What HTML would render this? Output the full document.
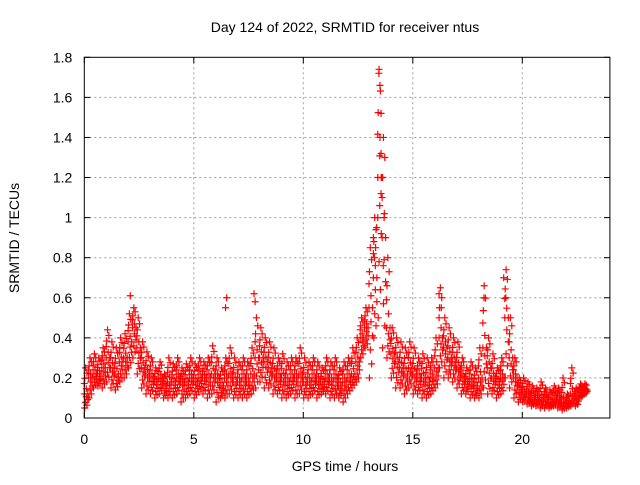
<!DOCTYPE html>
<html><head><meta charset="utf-8"><style>
body{margin:0;background:#fff}
svg text{font-family:"Liberation Sans",sans-serif;font-size:14px;fill:#000}
</style></head><body>
<svg id="chart" width="640" height="480" xmlns="http://www.w3.org/2000/svg">
<rect width="640" height="480" fill="#fff"/>
<text x="345" y="32" text-anchor="middle">Day 124 of 2022, SRMTID for receiver ntus</text>
<text transform="translate(19,238) rotate(-90)" text-anchor="middle">SRMTID / TECUs</text>
<text x="345" y="471" text-anchor="middle">GPS time / hours</text>
<g id="grid"></g><g id="ticks"></g><g id="marks"></g>
<rect x="84.3" y="57.3" width="525.6" height="360.7" fill="none" stroke="#000" stroke-width="1"/>
</svg>
<script>
const times=[0.0,0.2,0.4,0.6,0.8,1.0,1.2,1.4,1.6,1.8,2.0,2.2,2.4,2.6,2.8,3.0,3.2,3.4,3.6,3.8,4.0,4.2,4.4,4.6,4.8,5.0,5.2,5.4,5.6,5.8,6.0,6.2,6.4,6.6,6.8,7.0,7.2,7.4,7.6,7.8,8.0,8.2,8.4,8.6,8.8,9.0,9.2,9.4,9.6,9.8,10.0,10.2,10.4,10.6,10.8,11.0,11.2,11.4,11.6,11.8,12.0,12.2,12.4,12.6,12.8,13.0,13.2,13.4,13.6,13.8,14.0,14.2,14.4,14.6,14.8,15.0,15.2,15.4,15.6,15.8,16.0,16.2,16.4,16.6,16.8,17.0,17.2,17.4,17.6,17.8,18.0,18.2,18.4,18.6,18.8,19.0,19.2,19.4,19.6,19.8,20.0,20.2,20.4,20.6,20.8,21.0,21.2,21.4,21.6,21.8,22.0,22.2,22.4,22.6,22.8];
const hiVals=[.25,.3,.32,.3,.35,.44,.38,.35,.4,.42,.52,.55,.5,.38,.33,.3,.25,.28,.22,.3,.27,.3,.25,.27,.3,.27,.3,.28,.3,.36,.3,.25,.3,.35,.3,.28,.3,.28,.35,.5,.45,.4,.38,.35,.3,.32,.28,.3,.3,.35,.3,.28,.3,.28,.25,.3,.28,.3,.25,.28,.3,.35,.4,.5,.55,.85,1.0,1.74,1.4,.8,.45,.4,.38,.35,.38,.35,.3,.32,.3,.3,.4,.65,.5,.45,.4,.38,.3,.25,.28,.25,.35,.66,.4,.32,.25,.3,.74,.5,.3,.2,.2,.18,.16,.15,.18,.15,.14,.16,.15,.2,.12,.25,.15,.17,.17];
const midVals=[.12,.2,.22,.22,.25,.3,.25,.22,.28,.3,.38,.45,.35,.25,.22,.2,.18,.2,.16,.18,.18,.2,.18,.18,.2,.18,.2,.2,.2,.22,.2,.16,.2,.22,.18,.18,.2,.18,.22,.3,.3,.28,.25,.22,.2,.2,.18,.2,.2,.22,.18,.18,.2,.18,.18,.2,.18,.2,.16,.18,.2,.22,.28,.4,.45,.55,.7,1.2,.9,.45,.32,.28,.25,.22,.25,.22,.2,.2,.18,.2,.25,.4,.35,.3,.28,.25,.2,.18,.18,.16,.2,.35,.25,.2,.18,.2,.5,.3,.2,.14,.13,.12,.1,.1,.1,.1,.08,.1,.1,.08,.08,.12,.1,.13,.14];
const loVals=[.05,.1,.15,.16,.15,.18,.15,.14,.18,.2,.25,.3,.22,.15,.12,.12,.1,.12,.1,.1,.1,.12,.08,.1,.12,.1,.13,.12,.1,.12,.08,.1,.1,.12,.1,.1,.1,.1,.12,.15,.18,.15,.15,.12,.12,.1,.1,.12,.1,.12,.1,.1,.12,.1,.12,.12,.1,.1,.1,.08,.12,.15,.18,.3,.35,.2,.4,.5,.35,.3,.2,.15,.15,.12,.15,.12,.12,.1,.1,.12,.15,.25,.2,.2,.18,.15,.12,.12,.1,.1,.1,.15,.12,.12,.1,.12,.2,.15,.1,.08,.08,.07,.06,.06,.05,.05,.05,.06,.05,.04,.05,.06,.06,.1,.12];
const spikeTimes=[13.45,13.5,13.55,13.5,13.55,13.6,13.55,13.35,13.3,13.65,13.25,13.4,6.5,6.45,7.75,7.8,2.1,18.25,19.15,19.25,16.2,16.3,13.2,13.7];
const spikeVals=[1.72,1.66,1.52,1.4,1.32,1.2,1.12,0.95,0.85,0.76,0.8,1.0,0.6,0.55,0.62,0.58,0.61,0.6,0.7,0.6,0.62,0.55,0.9,1.02];
const xTicks=[0,5,10,15,20];
const yTicks=[0,0.2,0.4,0.6,0.8,1,1.2,1.4,1.6,1.8];
const yTickLabels=["0","0.2","0.4","0.6","0.8","1","1.2","1.4","1.6","1.8"];

const L=84.3,R=609.9,T=57.3,B=418;
const xs=v=>L+(v/24)*(R-L);
const ys=v=>B-(v/1.8)*(B-T);
const NS="http://www.w3.org/2000/svg";
function mk(tag,attrs,parent){const e=document.createElementNS(NS,tag);for(const k in attrs)e.setAttribute(k,attrs[k]);parent.appendChild(e);return e;}
const grid=document.getElementById('grid'),ticks=document.getElementById('ticks'),marks=document.getElementById('marks');
xTicks.forEach(v=>{const x=xs(v);
 if(v>0){const g=mk('line',{x1:x,x2:x,y1:T,y2:B,stroke:'#a0a0a0','stroke-dasharray':'2,3'},grid);
 
 }
 mk('line',{x1:x,x2:x,y1:B,y2:B-6,stroke:'#000'},ticks);
 mk('line',{x1:x,x2:x,y1:T,y2:T+6,stroke:'#000'},ticks);
 const t=mk('text',{x:x,y:B+26,'text-anchor':'middle'},ticks);t.textContent=v;
 
 });
yTicks.forEach((v,i)=>{const y=ys(v);
 if(v>0&&v<1.8){const g=mk('line',{x1:L,x2:R,y1:y,y2:y,stroke:'#a0a0a0','stroke-dasharray':'2,3'},grid);
 
 }
 mk('line',{x1:L,x2:L+6,y1:y,y2:y,stroke:'#000'},ticks);
 mk('line',{x1:R,x2:R-6,y1:y,y2:y,stroke:'#000'},ticks);
 const t=mk('text',{x:L-12,y:y+5,'text-anchor':'end'},ticks);t.textContent=yTickLabels[i];
 
 });
function plus(t,v){const x=xs(t),y=ys(v);
 const p=mk('path',{d:`M${x-3.5},${y}h7M${x},${y-3.5}v7`,stroke:'#f00','stroke-width':1.2,fill:'none'},marks);
 
 }
const fr=[0,0.2,0.4,0.6,0.8,1];
const off=[0.02,0.12,0.06,0.16,0.09,0.0];
times.forEach((t,i)=>{
 fr.forEach((f,k)=>{
  plus(t+off[k],loVals[i]+(midVals[i]-loVals[i])*f);
  plus(t+off[(k+3)%6],midVals[i]+(hiVals[i]-midVals[i])*f);
 });
});
spikeTimes.forEach((t,i)=>plus(t,spikeVals[i]));
</script>
</body></html>
